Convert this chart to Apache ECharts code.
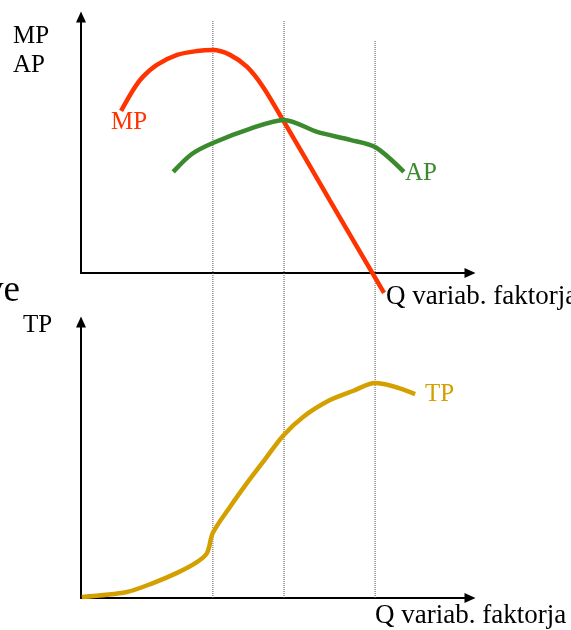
<!DOCTYPE html>
<html>
<head>
<meta charset="utf-8">
<script src="https://cdn.jsdelivr.net/npm/echarts@6/dist/echarts.min.js"></script>
<style>
html,body{margin:0;padding:0;background:#fff;}
#chart{width:571px;height:630px;}
</style>
</head>
<body>
<div id="chart"></div>
<script>
// Quantity of the variable factor (x, 0..100 scale)
const mpQ   = [10.3, 13.4, 15.9, 19.5, 24.7, 29.8, 33.9, 38.3, 42.7, 46.8, 51.9, 64.0, 77.9];
const mpVal = [63.3, 71.5, 76.6, 81.3, 85.2, 86.7, 87.1, 85.2, 80.5, 72.7, 59.8, 28.3, -7.8];

const apQ   = [23.7, 28.5, 33.9, 43.4, 52.2, 60.7, 69.2, 75.6, 83.0];
const apVal = [39.5, 46.5, 50.8, 56.3, 59.8, 55.1, 52.0, 49.2, 39.5];

const tpQ   = [0.2, 11.8, 18.5, 24.7, 29.8, 32.4, 33.9, 38.3, 42.7, 46.8, 51.9, 57.1, 64.0, 69.9, 75.6, 85.9];
const tpVal = [0.4, 2.2, 5.4, 9.1, 13.0, 16.3, 23.6, 33.0, 41.7, 49.3, 58.7, 65.6, 71.7, 75.0, 77.9, 73.9];

// Vertical guide lines (Q positions) and their top ends (guide scale 0..100)
const guideQ   = [33.9, 52.2, 75.6];
const guideTop = [99.5, 99.5, 95.9];

// Texts
const topYLabel = 'MP\nAP';
const botYLabel = 'TP';
const xLabel = 'Q variab. faktorja';
const cutText = 've';

const RED = '#FF3300', GREEN = '#3B8A2E', GOLD = '#D4A000';
const serif = '"Liberation Serif", "Times New Roman", serif';

function zip(a, b) { return a.map((v, i) => [v, b[i]]); }

const axisLine = {
  show: true,
  symbol: ['none', 'triangle'],
  symbolSize: [10, 11],
  lineStyle: { color: '#000', width: 2 }
};
function xAx(idx, show) {
  return { type: 'value', gridIndex: idx, min: 0, max: 100, show: show,
    axisLine: axisLine, axisTick: {show:false}, axisLabel: {show:false}, splitLine: {show:false} };
}
function yAx(idx, show) {
  return { type: 'value', gridIndex: idx, min: 0, max: 100, show: show,
    axisLine: axisLine, axisTick: {show:false}, axisLabel: {show:false}, splitLine: {show:false} };
}

const guideSeries = guideQ.map((q, i) => ({
  type: 'line', xAxisIndex: 2, yAxisIndex: 2, symbol: 'none', silent: true, z: 1,
  data: [[q, 0], [q, guideTop[i]]],
  lineStyle: { color: '#555', width: 1, type: [1, 1] }
}));

const chart = echarts.init(document.getElementById('chart'), null, {renderer: 'canvas'});
chart.setOption({
  animation: false,
  backgroundColor: '#fff',
  grid: [
    { left: 81, top: 17, width: 389, height: 256 },
    { left: 81, top: 322, width: 389, height: 276 },
    { left: 81, top: 17, width: 389, height: 581 }
  ],
  xAxis: [xAx(0, true), xAx(1, true), xAx(2, false)],
  yAxis: [yAx(0, true), yAx(1, true), yAx(2, false)],
  series: guideSeries.concat([
    { type: 'line', xAxisIndex: 0, yAxisIndex: 0, symbol: 'none', smooth: 0.3, clip: false, z: 3,
      data: zip(mpQ, mpVal), lineStyle: { color: RED, width: 4.5 } },
    { type: 'line', xAxisIndex: 0, yAxisIndex: 0, symbol: 'none', smooth: 0.3, clip: false, z: 3,
      data: zip(apQ, apVal), lineStyle: { color: GREEN, width: 4.5 } },
    { type: 'line', xAxisIndex: 1, yAxisIndex: 1, symbol: 'none', smooth: 0.3, clip: false, z: 3,
      data: zip(tpQ, tpVal), lineStyle: { color: GOLD, width: 4.5 } }
  ]),
  graphic: [
    { type: 'text', left: 13, top: 22, style: { text: topYLabel, fill: '#000', fontSize: 25, fontFamily: serif, lineHeight: 29 } },
    { type: 'text', x: 111, y: 122, style: { text: 'MP', fill: RED, fontSize: 25, fontFamily: serif, verticalAlign: 'middle' } },
    { type: 'text', x: 405, y: 173, style: { text: 'AP', fill: GREEN, fontSize: 25, fontFamily: serif, verticalAlign: 'middle' } },
    { type: 'text', x: 386, y: 297, style: { text: xLabel, fill: '#000', fontSize: 27, fontFamily: serif, verticalAlign: 'middle' } },
    { type: 'text', x: 20, y: 291, style: { text: cutText, fill: '#000', fontSize: 37, fontFamily: serif, verticalAlign: 'middle', align: 'right' } },
    { type: 'text', x: 23, y: 325, style: { text: botYLabel, fill: '#000', fontSize: 25, fontFamily: serif, verticalAlign: 'middle' } },
    { type: 'text', x: 425, y: 394, style: { text: 'TP', fill: GOLD, fontSize: 25, fontFamily: serif, verticalAlign: 'middle' } },
    { type: 'text', x: 375, y: 616, style: { text: xLabel, fill: '#000', fontSize: 27, fontFamily: serif, verticalAlign: 'middle' } }
  ]
});
</script>
</body>
</html>
